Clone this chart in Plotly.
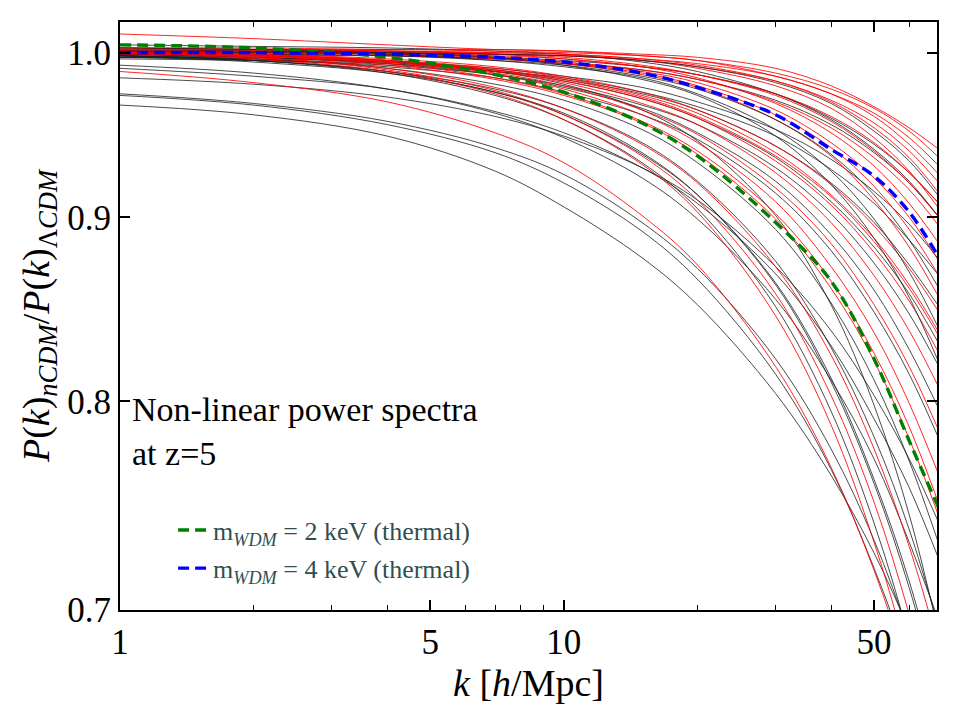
import math
import plotly.graph_objects as go

# wavenumbers k [h/Mpc] at which the ratios are sampled
k_vals = [1, 2, 4, 7, 10, 15, 20, 30, 40, 50, 60, 70]

# thermal WDM references
wdm_2kev = [1.005, 1.003, 0.997, 0.986, 0.975, 0.956, 0.936, 0.897, 0.864, 0.822, 0.780, 0.747]
wdm_4kev = [1.000, 1.000, 0.999, 0.997, 0.994, 0.987, 0.978, 0.961, 0.940, 0.924, 0.903, 0.877]

# nCDM models (red family)
red_ratios = [
    [1.012, 1.009, 1.005, 1.002, 1.001, 0.999, 0.997, 0.990, 0.979, 0.966, 0.953, 0.940],
    [1.002, 1.002, 1.002, 1.001, 1.000, 0.998, 0.995, 0.987, 0.977, 0.965, 0.951, 0.935],
    [1.001, 1.001, 1.001, 1.000, 0.999, 0.996, 0.993, 0.985, 0.974, 0.962, 0.947, 0.930],
    [1.003, 1.003, 1.002, 1.002, 1.001, 0.998, 0.995, 0.985, 0.974, 0.960, 0.943, 0.925],
    [1.000, 1.000, 1.000, 0.999, 0.998, 0.995, 0.991, 0.982, 0.970, 0.956, 0.939, 0.920],
    [1.002, 1.002, 1.001, 1.000, 0.999, 0.996, 0.992, 0.982, 0.969, 0.953, 0.935, 0.914],
    [1.001, 1.001, 1.000, 0.999, 0.998, 0.995, 0.990, 0.979, 0.965, 0.947, 0.927, 0.905],
    [1.001, 1.001, 1.000, 0.998, 0.996, 0.991, 0.986, 0.974, 0.960, 0.944, 0.926, 0.908],
    [1.000, 0.999, 0.998, 0.996, 0.994, 0.989, 0.983, 0.969, 0.953, 0.935, 0.916, 0.895],
    [1.003, 1.002, 1.001, 0.999, 0.997, 0.992, 0.986, 0.973, 0.957, 0.939, 0.920, 0.900],
    [1.003, 1.002, 1.001, 0.999, 0.996, 0.991, 0.984, 0.968, 0.950, 0.930, 0.908, 0.885],
    [1.001, 1.000, 0.999, 0.997, 0.994, 0.988, 0.981, 0.964, 0.944, 0.923, 0.900, 0.875],
    [1.001, 1.000, 0.999, 0.996, 0.993, 0.987, 0.979, 0.961, 0.941, 0.918, 0.893, 0.867],
    [1.002, 1.001, 1.000, 0.997, 0.993, 0.986, 0.978, 0.958, 0.936, 0.910, 0.883, 0.855],
    [1.000, 0.999, 0.996, 0.991, 0.985, 0.975, 0.964, 0.942, 0.919, 0.895, 0.871, 0.847],
    [1.000, 0.998, 0.995, 0.990, 0.984, 0.973, 0.962, 0.938, 0.913, 0.888, 0.862, 0.836],
    [1.000, 0.998, 0.995, 0.989, 0.982, 0.971, 0.959, 0.933, 0.907, 0.880, 0.853, 0.825],
    [0.999, 0.998, 0.994, 0.989, 0.983, 0.972, 0.960, 0.936, 0.912, 0.886, 0.860, 0.834],
    [1.001, 0.999, 0.995, 0.988, 0.981, 0.968, 0.955, 0.926, 0.897, 0.867, 0.837, 0.807],
    [1.001, 0.999, 0.994, 0.987, 0.979, 0.964, 0.949, 0.917, 0.885, 0.851, 0.818, 0.785],
    [1.001, 0.999, 0.994, 0.986, 0.977, 0.961, 0.944, 0.909, 0.872, 0.836, 0.799, 0.763],
    [1.000, 0.998, 0.993, 0.984, 0.974, 0.957, 0.939, 0.902, 0.864, 0.825, 0.787, 0.749],
    [1.000, 0.998, 0.992, 0.983, 0.973, 0.956, 0.937, 0.899, 0.860, 0.821, 0.781, 0.743],
    [1.000, 0.997, 0.990, 0.978, 0.965, 0.943, 0.920, 0.872, 0.824, 0.776, 0.729, 0.683],
    [1.000, 0.997, 0.989, 0.976, 0.961, 0.936, 0.910, 0.857, 0.803, 0.750, 0.698, 0.649],
    [1.000, 0.996, 0.988, 0.974, 0.958, 0.931, 0.903, 0.845, 0.788, 0.731, 0.677, 0.625],
    [0.988, 0.981, 0.969, 0.950, 0.932, 0.901, 0.873, 0.818, 0.767, 0.718, 0.672, 0.631],
]

# nCDM models (black family)
black_ratios = [
    [1.005, 1.004, 1.003, 1.001, 0.999, 0.994, 0.988, 0.974, 0.958, 0.940, 0.921, 0.900],
    [1.000, 1.000, 0.999, 0.997, 0.995, 0.991, 0.986, 0.974, 0.959, 0.943, 0.926, 0.908],
    [0.999, 0.998, 0.998, 0.996, 0.993, 0.989, 0.983, 0.970, 0.955, 0.938, 0.920, 0.900],
    [0.997, 0.996, 0.994, 0.990, 0.985, 0.978, 0.969, 0.952, 0.934, 0.915, 0.896, 0.876],
    [0.996, 0.995, 0.993, 0.988, 0.984, 0.975, 0.966, 0.948, 0.928, 0.908, 0.887, 0.867],
    [0.998, 0.997, 0.994, 0.989, 0.983, 0.974, 0.964, 0.942, 0.920, 0.897, 0.873, 0.850],
    [0.999, 0.997, 0.994, 0.988, 0.982, 0.971, 0.959, 0.935, 0.909, 0.883, 0.857, 0.830],
    [0.997, 0.995, 0.992, 0.986, 0.979, 0.967, 0.955, 0.929, 0.902, 0.874, 0.846, 0.818],
    [0.984, 0.980, 0.972, 0.960, 0.948, 0.929, 0.910, 0.872, 0.837, 0.803, 0.771, 0.740],
    [0.973, 0.967, 0.955, 0.938, 0.920, 0.892, 0.865, 0.814, 0.766, 0.719, 0.676, 0.636],
    [0.974, 0.968, 0.957, 0.941, 0.925, 0.897, 0.871, 0.822, 0.776, 0.732, 0.689, 0.651],
    [0.967, 0.961, 0.948, 0.927, 0.906, 0.877, 0.851, 0.804, 0.763, 0.726, 0.691, 0.659],
    [0.999, 0.997, 0.993, 0.986, 0.978, 0.965, 0.950, 0.921, 0.890, 0.859, 0.827, 0.796],
    [0.997, 0.996, 0.991, 0.984, 0.975, 0.961, 0.946, 0.914, 0.881, 0.847, 0.814, 0.781],
    [0.998, 0.995, 0.988, 0.975, 0.962, 0.938, 0.913, 0.862, 0.810, 0.759, 0.710, 0.662],
    [0.998, 0.995, 0.988, 0.977, 0.965, 0.944, 0.921, 0.875, 0.828, 0.782, 0.737, 0.692],
    [0.999, 0.998, 0.995, 0.988, 0.980, 0.964, 0.945, 0.901, 0.851, 0.798, 0.744, 0.689],
    [1.000, 0.999, 0.998, 0.995, 0.992, 0.985, 0.977, 0.958, 0.937, 0.913, 0.887, 0.860],
    [1.001, 1.000, 0.999, 0.995, 0.991, 0.984, 0.974, 0.952, 0.927, 0.899, 0.869, 0.838],
    [0.990, 0.985, 0.977, 0.963, 0.950, 0.929, 0.908, 0.868, 0.829, 0.791, 0.757, 0.723],
    [0.992, 0.987, 0.977, 0.962, 0.947, 0.923, 0.899, 0.854, 0.811, 0.771, 0.731, 0.695],
    [0.998, 0.994, 0.987, 0.975, 0.961, 0.937, 0.913, 0.863, 0.812, 0.761, 0.713, 0.665],
    [0.998, 0.995, 0.987, 0.973, 0.958, 0.932, 0.905, 0.850, 0.795, 0.740, 0.687, 0.637],
    [0.998, 0.996, 0.990, 0.980, 0.970, 0.952, 0.932, 0.893, 0.852, 0.811, 0.770, 0.730],
    [1.003, 1.002, 1.000, 0.997, 0.992, 0.983, 0.973, 0.948, 0.919, 0.888, 0.855, 0.820],
    [1.001, 1.001, 1.000, 0.999, 0.998, 0.995, 0.991, 0.981, 0.968, 0.951, 0.933, 0.912],
]

x_ticks = [1, 5, 10, 50]
x_tick_text = ["1", "5", "10", "50"]
x_minor = [2, 3, 4, 6, 7, 8, 9, 20, 30, 40, 60]
y_ticks = [0.7, 0.8, 0.9, 1.0]
y_tick_text = ["0.7", "0.8", "0.9", "1.0"]

FONT = "Liberation Serif, DejaVu Serif, serif"

fig = go.Figure()

n = max(len(red_ratios), len(black_ratios))
for i in range(n):
    if i < len(black_ratios):
        fig.add_trace(go.Scatter(
            x=k_vals, y=black_ratios[i], mode="lines", showlegend=False,
            line=dict(color="rgba(30,30,30,0.8)", width=1, shape="spline", smoothing=1.0),
            hoverinfo="skip"))
    if i < len(red_ratios):
        fig.add_trace(go.Scatter(
            x=k_vals, y=red_ratios[i], mode="lines", showlegend=False,
            line=dict(color="rgba(255,0,0,0.85)", width=1, shape="spline", smoothing=1.0),
            hoverinfo="skip"))

fig.add_trace(go.Scatter(
    x=k_vals, y=wdm_2kev, mode="lines", legend="legend",
    name="m<sub><i>WDM</i></sub> = 2 keV (thermal)",
    line=dict(color="green", width=3.4, dash="11px,6px", shape="spline", smoothing=1.0)))
fig.add_trace(go.Scatter(
    x=k_vals, y=wdm_4kev, mode="lines", legend="legend2",
    name="m<sub><i>WDM</i></sub> = 4 keV (thermal)",
    line=dict(color="blue", width=3.4, dash="11px,6px", shape="spline", smoothing=1.0)))

fig.add_annotation(
    text="Non-linear power spectra<br>at z=5", xref="paper", yref="paper",
    x=0.012, y=0.303, xanchor="left", yanchor="middle", align="left",
    showarrow=False, font=dict(family=FONT, size=34, color="black"))

axis_common = dict(showline=True, linecolor="black", linewidth=2, mirror="ticks",
                   ticks="inside", ticklen=10, tickwidth=1.5, tickcolor="black",
                   showgrid=False, zeroline=False,
                   tickfont=dict(family=FONT, size=35, color="black"))

fig.update_layout(
    width=960, height=720,
    margin=dict(l=120, r=23, t=22, b=110),
    paper_bgcolor="white", plot_bgcolor="white",
    font=dict(family=FONT, color="black"),
    xaxis=dict(type="log", range=[0, math.log10(69.3)],
               tickmode="array", tickvals=x_ticks, ticktext=x_tick_text,
               minor=dict(ticks="inside", ticklen=5, tickwidth=1, tickcolor="black",
                          tickvals=x_minor, showgrid=False),
               title=dict(text="<i>k</i> [<i>h</i>/Mpc]", font=dict(family=FONT, size=38), standoff=0),
               **axis_common),
    yaxis=dict(type="log", range=[math.log10(0.7), math.log10(1.0198)],
               tickmode="array", tickvals=y_ticks, ticktext=y_tick_text,
               title=dict(text="<i>P</i>(<i>k</i>)<sub><i>nCDM</i></sub>/<i>P</i>(<i>k</i>)<sub>Λ<i>CDM</i></sub>",
                          font=dict(family=FONT, size=38), standoff=6),
               **axis_common),
    legend=dict(x=0.065, y=0.136, xanchor="left", yanchor="middle",
                bgcolor="rgba(0,0,0,0)", font=dict(family=FONT, size=26, color="#2F4F4F")),
    legend2=dict(x=0.065, y=0.071, xanchor="left", yanchor="middle",
                 bgcolor="rgba(0,0,0,0)", font=dict(family=FONT, size=26, color="#2F4F4F")),
)

fig.write_html("out.html")
